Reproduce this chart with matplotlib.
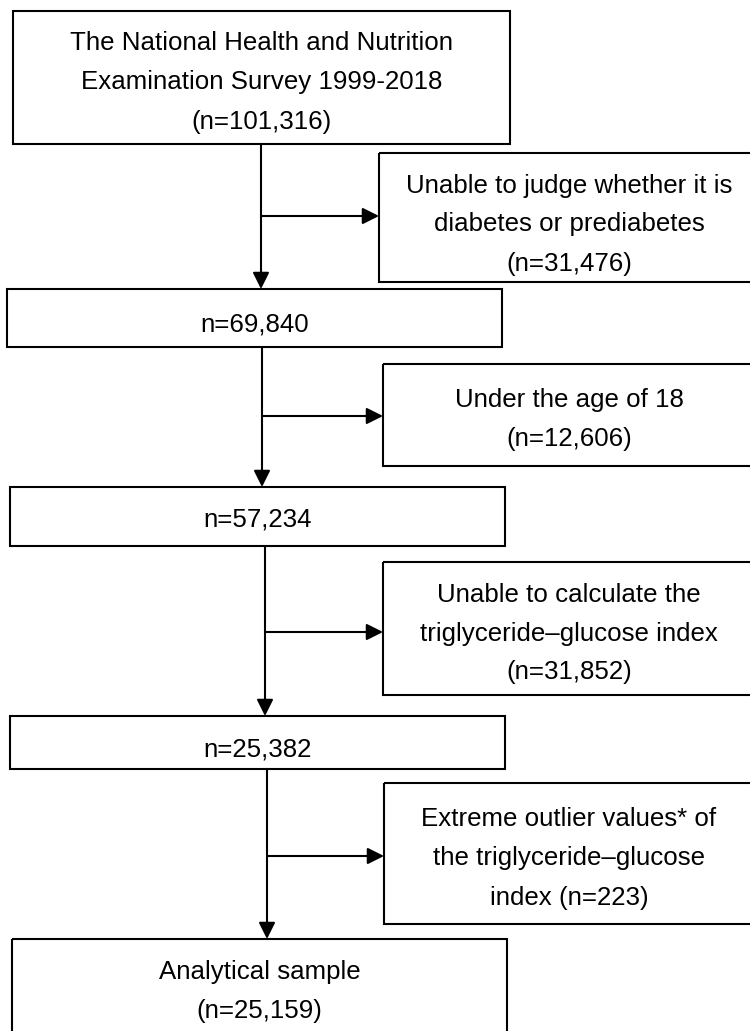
import matplotlib
matplotlib.use("Agg")
import matplotlib.pyplot as plt
from matplotlib.patches import Rectangle

# ---- content ----
main_labels = [
    "The National Health and Nutrition\nExamination Survey 1999-2018\n(n=101,316)",
    "n=69,840",
    "n=57,234",
    "n=25,382",
    "Analytical sample\n(n=25,159)",
]
excl_labels = [
    "Unable to judge whether it is\ndiabetes or prediabetes\n(n=31,476)",
    "Under the age of 18\n(n=12,606)",
    "Unable to calculate the\ntriglyceride\u2013glucose index\n(n=31,852)",
    "Extreme outlier values* of\nthe triglyceride\u2013glucose\nindex (n=223)",
]

# ---- layout (pixel units, y downward) ----
main_boxes = [(13, 510, 11, 144), (7, 502, 289, 347), (10, 505, 487, 546),
              (10, 505, 716, 769), (12, 507, 939, 1045)]
main_text_y = [80, 322, 517, 747, 989]
excl_boxes = [(379, 760, 153, 282), (383, 760, 364, 466),
              (383, 760, 562, 695), (384, 760, 783, 924)]
excl_text_y = [222, 417, 631, 856]
excl_text_x = [569, 569, 569, 569]
arrow_x = [261, 262, 265, 267]
branch_y = [216, 416, 632, 856]

W, H = 750, 1031
DPI = 100
LINE_PITCH = 39
FS = 18.6
LW = 1.5

fig = plt.figure(figsize=(W / DPI, H / DPI), dpi=DPI)
ax = fig.add_axes([0, 0, 1, 1])
ax.set_xlim(0, W)
ax.set_ylim(H, 0)
ax.axis("off")

def draw_box(b):
    x0, x1, y0, y1 = b
    ax.add_patch(Rectangle((x0, y0), x1 - x0, y1 - y0, fill=False,
                           edgecolor="black", lw=LW, joinstyle="miter"))

def draw_text(label, xc, yc):
    lines = label.split("\n")
    n = len(lines)
    for i, ln in enumerate(lines):
        y = yc + (i - (n - 1) / 2) * LINE_PITCH
        ax.text(xc, y, ln, ha="center", va="center_baseline",
                fontsize=FS, family="Liberation Sans", color="black")

def arrow(x0, y0, x1, y1):
    ax.annotate("", xy=(x1, y1), xytext=(x0, y0),
                arrowprops=dict(arrowstyle="-|>", mutation_scale=25,
                                lw=LW, color="black",
                                shrinkA=0, shrinkB=0))

for b, lab, ty in zip(main_boxes, main_labels, main_text_y):
    draw_box(b)
    draw_text(lab, (b[0] + b[1]) / 2, ty)

for b, lab, tx, ty in zip(excl_boxes, excl_labels, excl_text_x, excl_text_y):
    draw_box(b)
    draw_text(lab, tx, ty)

for i in range(4):
    top = main_boxes[i][3]
    bot = main_boxes[i + 1][2]
    arrow(arrow_x[i], top, arrow_x[i], bot)
    arrow(arrow_x[i], branch_y[i], excl_boxes[i][0], branch_y[i])

fig.savefig("out.png", dpi=DPI, facecolor="white")
